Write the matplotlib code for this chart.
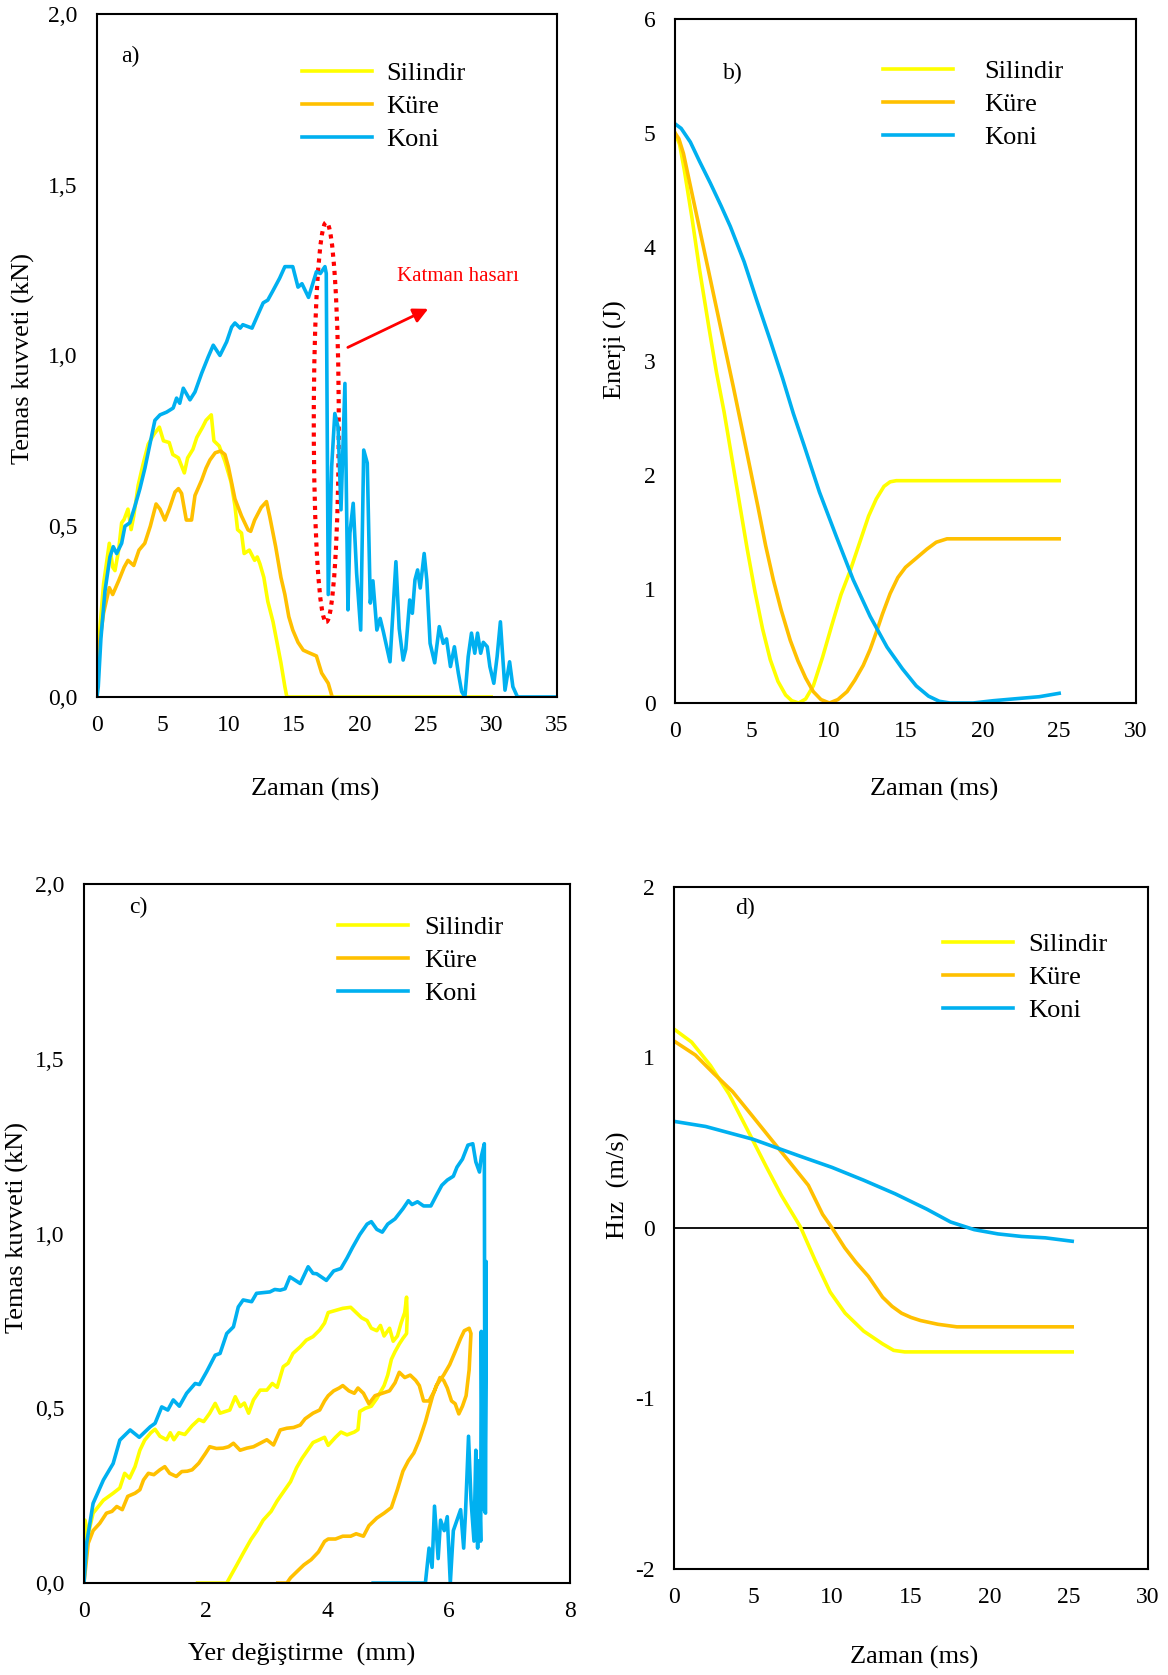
import matplotlib
matplotlib.use('Agg')
import matplotlib.pyplot as plt
from matplotlib.patches import Ellipse

plt.rcParams['font.family'] = ['Liberation Serif', 'DejaVu Serif']
plt.rcParams['axes.unicode_minus'] = False

# Colours (Excel palette)
C_SIL = '#FFFF00'
C_KUR = '#FFC000'
C_KON = '#00B0F0'

names = ['Silindir', 'Küre', 'Koni']

# ---- a) contact force vs time  (t [ms], F [kN]) ----
sil_a = [(0, 0), (0.2, 0.19), (0.5, 0.33), (0.94, 0.45), (1.2, 0.38), (1.37, 0.37), (1.65, 0.43),
         (1.88, 0.51), (2.07, 0.52), (2.36, 0.55), (2.6, 0.49), (2.8, 0.53), (3.14, 0.62), (3.5, 0.68),
         (3.9, 0.74), (4.35, 0.77), (4.75, 0.79), (5.06, 0.75), (5.5, 0.745), (5.77, 0.71), (6.2, 0.70),
         (6.65, 0.656), (6.9, 0.70), (7.3, 0.725), (7.6, 0.76), (8.04, 0.79), (8.3, 0.81), (8.7, 0.826),
         (8.9, 0.75), (9.3, 0.735), (9.74, 0.69), (10.2, 0.63), (10.5, 0.56), (10.7, 0.49), (11.0, 0.48),
         (11.2, 0.42), (11.6, 0.43), (12.0, 0.40), (12.2, 0.41), (12.4, 0.39), (12.7, 0.35), (13.0, 0.28),
         (13.4, 0.22), (13.7, 0.16), (14.0, 0.10), (14.3, 0.03), (14.45, 0.0), (30.0, 0.0)]
kur_a = [(0, 0), (0.17, 0.15), (0.5, 0.245), (0.94, 0.32), (1.2, 0.30), (1.65, 0.34), (2.07, 0.38),
         (2.36, 0.40), (2.8, 0.385), (3.2, 0.43), (3.64, 0.45), (4.06, 0.50), (4.5, 0.565), (4.8, 0.55),
         (5.17, 0.518), (5.5, 0.55), (5.94, 0.60), (6.2, 0.61), (6.44, 0.596), (6.8, 0.518), (7.2, 0.518),
         (7.46, 0.59), (7.97, 0.635), (8.3, 0.67), (8.6, 0.694), (9.0, 0.715), (9.4, 0.72), (9.74, 0.71),
         (10.0, 0.674), (10.5, 0.58), (11.0, 0.53), (11.5, 0.489), (11.7, 0.485), (12.0, 0.518),
         (12.5, 0.555), (12.9, 0.572), (13.15, 0.528), (13.6, 0.44), (14.0, 0.35), (14.3, 0.30),
         (14.6, 0.235), (14.9, 0.196), (15.3, 0.16), (15.7, 0.137), (16.1, 0.13), (16.7, 0.12),
         (17.1, 0.07), (17.6, 0.04), (17.9, 0.0)]
kon_a = [(0, 0), (0.1, 0.03), (0.3, 0.17), (0.61, 0.31), (0.99, 0.41), (1.24, 0.44), (1.5, 0.42),
         (1.88, 0.45), (2.13, 0.50), (2.5, 0.51), (2.9, 0.56), (3.27, 0.61), (3.65, 0.67), (4.03, 0.74),
         (4.41, 0.81), (4.8, 0.826), (5.3, 0.834), (5.8, 0.846), (6.06, 0.875), (6.3, 0.86), (6.57, 0.904),
         (7.08, 0.87), (7.46, 0.893), (7.97, 0.948), (8.47, 0.996), (8.85, 1.03), (9.36, 1.0), (9.87, 1.04),
         (10.25, 1.083), (10.5, 1.095), (10.9, 1.08), (11.1, 1.09), (11.8, 1.08), (12.3, 1.124),
         (12.65, 1.154), (13.0, 1.162), (13.4, 1.19), (13.9, 1.226), (14.3, 1.26), (14.9, 1.26),
         (15.3, 1.20), (15.6, 1.21), (16.1, 1.17), (16.5, 1.22), (16.7, 1.245), (17.0, 1.24),
         (17.35, 1.26), (17.45, 1.24), (17.6, 0.30), (17.86, 0.674), (18.1, 0.83), (18.35, 0.79),
         (18.57, 0.548), (18.87, 0.918), (19.1, 0.255), (19.25, 0.48), (19.5, 0.567), (19.76, 0.362),
         (20.07, 0.196), (20.3, 0.723), (20.57, 0.685), (20.8, 0.275), (21.0, 0.34), (21.3, 0.196),
         (21.55, 0.23), (21.8, 0.19), (22.3, 0.103), (22.75, 0.396), (23.0, 0.2), (23.3, 0.108),
         (23.5, 0.14), (23.8, 0.284), (24.0, 0.245), (24.2, 0.343), (24.4, 0.372), (24.6, 0.319),
         (24.9, 0.42), (25.1, 0.343), (25.35, 0.157), (25.7, 0.1), (26.05, 0.206), (26.35, 0.157),
         (26.6, 0.17), (26.9, 0.089), (27.2, 0.147), (27.5, 0.07), (27.75, 0.016), (28.0, 0.0),
         (28.25, 0.118), (28.5, 0.187), (28.75, 0.128), (28.96, 0.187), (29.2, 0.128), (29.4, 0.16),
         (29.7, 0.147), (29.9, 0.089), (30.2, 0.04), (30.45, 0.118), (30.7, 0.22), (31.05, 0.02),
         (31.4, 0.103), (31.65, 0.03), (32.0, 0.0), (35.0, 0.0)]

# damage marker in a)
hasar_center = (17.45, 0.805)
hasar_size = (1.9, 1.17)
arrow_from = (18.9, 1.02)
arrow_to = (25.4, 1.14)
hasar_text_pos = (27.5, 1.23)

# ---- b) energy vs time (t [ms], E [J]) ----
sil_b = [(0, 5.0), (0.3, 4.9), (0.6, 4.68), (1.1, 4.26), (1.6, 3.8), (2.2, 3.3), (2.7, 2.9),
         (3.2, 2.55), (3.7, 2.15), (4.2, 1.75), (4.7, 1.35), (5.2, 0.98), (5.7, 0.65), (6.2, 0.38),
         (6.7, 0.19), (7.2, 0.07), (7.6, 0.02), (8.05, 0.0), (8.5, 0.035), (9.0, 0.15), (9.6, 0.4),
         (10.2, 0.68), (10.8, 0.95), (11.4, 1.16), (12.0, 1.40), (12.6, 1.64), (13.1, 1.79),
         (13.6, 1.9), (14.0, 1.94), (14.4, 1.95), (25.0, 1.95)]
kur_b = [(0, 5.0), (0.25, 4.95), (0.55, 4.82), (1.2, 4.41), (1.85, 4.0), (2.5, 3.59), (3.15, 3.18),
         (3.8, 2.77), (4.4, 2.38), (4.9, 2.05), (5.4, 1.72), (5.9, 1.38), (6.4, 1.08), (6.9, 0.82),
         (7.5, 0.55), (8.0, 0.37), (8.5, 0.22), (9.0, 0.1), (9.5, 0.03), (10.05, 0.0), (10.6, 0.03),
         (11.2, 0.1), (11.7, 0.2), (12.25, 0.33), (12.7, 0.47), (13.1, 0.62), (13.5, 0.78),
         (14.0, 0.96), (14.5, 1.1), (15.0, 1.19), (15.7, 1.27), (16.4, 1.35), (17.0, 1.41),
         (17.7, 1.44), (25.0, 1.44)]
kon_b = [(0, 5.08), (0.4, 5.04), (1.0, 4.92), (1.6, 4.75), (2.3, 4.56), (3.0, 4.36), (3.6, 4.18),
         (4.5, 3.87), (5.3, 3.54), (6.2, 3.18), (7.0, 2.85), (7.7, 2.54), (8.4, 2.26), (9.4, 1.85),
         (10.5, 1.46), (11.6, 1.08), (12.7, 0.76), (13.8, 0.49), (14.8, 0.3), (15.7, 0.15),
         (16.5, 0.06), (17.2, 0.015), (17.9, 0.0), (19.4, 0.0), (20.7, 0.02), (22.4, 0.04),
         (23.7, 0.055), (25.0, 0.085)]

# ---- c) contact force vs displacement (d [mm], F [kN]) ----
sil_c = [(0, 0), (0.016, 0.18), (0.07, 0.14), (0.15, 0.2), (0.32, 0.237), (0.48, 0.257), (0.59, 0.272),
         (0.67, 0.314), (0.75, 0.30), (0.84, 0.333), (0.92, 0.38), (1.0, 0.409), (1.1, 0.43),
         (1.17, 0.44), (1.25, 0.42), (1.36, 0.41), (1.42, 0.43), (1.48, 0.41), (1.56, 0.43),
         (1.66, 0.425), (1.78, 0.45), (1.89, 0.468), (1.97, 0.462), (2.07, 0.486), (2.16, 0.514),
         (2.24, 0.486), (2.4, 0.495), (2.49, 0.533), (2.57, 0.505), (2.64, 0.515), (2.71, 0.486),
         (2.79, 0.524), (2.9, 0.552), (3.01, 0.552), (3.1, 0.571), (3.18, 0.56), (3.28, 0.619),
         (3.36, 0.629), (3.44, 0.657), (3.56, 0.676), (3.66, 0.695), (3.77, 0.705), (3.88, 0.724),
         (3.96, 0.744), (4.02, 0.774), (4.14, 0.78), (4.26, 0.786), (4.39, 0.789), (4.48, 0.774),
         (4.57, 0.759), (4.66, 0.751), (4.73, 0.729), (4.82, 0.722), (4.88, 0.737), (4.94, 0.707),
         (5.03, 0.729), (5.09, 0.692), (5.16, 0.707), (5.22, 0.744), (5.28, 0.774), (5.31, 0.818),
         (5.32, 0.759), (5.31, 0.714), (5.25, 0.7), (5.19, 0.684), (5.12, 0.662), (5.06, 0.64),
         (5.0, 0.595), (4.94, 0.565), (4.82, 0.528), (4.73, 0.506), (4.63, 0.5), (4.54, 0.491),
         (4.51, 0.439), (4.45, 0.432), (4.33, 0.424), (4.23, 0.432), (4.14, 0.417), (4.02, 0.394),
         (3.96, 0.417), (3.86, 0.409), (3.77, 0.402), (3.65, 0.372), (3.59, 0.357), (3.5, 0.33),
         (3.4, 0.29), (3.3, 0.265), (3.18, 0.235), (3.08, 0.205), (2.95, 0.18), (2.85, 0.15),
         (2.75, 0.125), (2.62, 0.085), (2.51, 0.05), (2.42, 0.022), (2.35, 0.0), (1.87, 0.0)]
kur_c = [(0, 0), (0.07, 0.114), (0.15, 0.15), (0.26, 0.171), (0.37, 0.2), (0.46, 0.205), (0.54, 0.219),
         (0.63, 0.21), (0.72, 0.248), (0.84, 0.257), (0.92, 0.267), (0.98, 0.295), (1.06, 0.314),
         (1.15, 0.31), (1.25, 0.324), (1.33, 0.333), (1.41, 0.314), (1.52, 0.305), (1.61, 0.319),
         (1.7, 0.32), (1.78, 0.324), (1.89, 0.343), (2.0, 0.371), (2.07, 0.39), (2.18, 0.385),
         (2.29, 0.386), (2.38, 0.39), (2.46, 0.4), (2.57, 0.38), (2.68, 0.386), (2.79, 0.39),
         (2.9, 0.4), (3.01, 0.41), (3.12, 0.395), (3.23, 0.438), (3.34, 0.443), (3.45, 0.445),
         (3.56, 0.452), (3.64, 0.47), (3.77, 0.486), (3.88, 0.495), (3.96, 0.521), (4.02, 0.536),
         (4.11, 0.55), (4.2, 0.558), (4.26, 0.565), (4.36, 0.55), (4.45, 0.543), (4.51, 0.558),
         (4.6, 0.543), (4.69, 0.513), (4.79, 0.536), (4.91, 0.543), (5.03, 0.55), (5.12, 0.573),
         (5.19, 0.603), (5.28, 0.588), (5.37, 0.595), (5.46, 0.58), (5.52, 0.565), (5.59, 0.521),
         (5.68, 0.521), (5.77, 0.55), (5.86, 0.588), (5.92, 0.58), (5.98, 0.558), (6.05, 0.521),
         (6.11, 0.513), (6.17, 0.484), (6.23, 0.506), (6.29, 0.536), (6.34, 0.61), (6.37, 0.714),
         (6.34, 0.729), (6.26, 0.722), (6.2, 0.7), (6.11, 0.662), (6.02, 0.625), (5.92, 0.595),
         (5.86, 0.58), (5.8, 0.565), (5.74, 0.536), (5.68, 0.499), (5.62, 0.461), (5.52, 0.409),
         (5.43, 0.372), (5.34, 0.35), (5.25, 0.32), (5.16, 0.268), (5.06, 0.216), (4.94, 0.2),
         (4.82, 0.186), (4.69, 0.164), (4.6, 0.134), (4.48, 0.141), (4.39, 0.134), (4.26, 0.134),
         (4.14, 0.126), (4.02, 0.126), (3.96, 0.119), (3.86, 0.089), (3.74, 0.067), (3.62, 0.052),
         (3.53, 0.037), (3.4, 0.015), (3.34, 0.0), (3.19, 0.0)]
kon_c = [(0, 0), (0.044, 0.114), (0.15, 0.228), (0.32, 0.295), (0.48, 0.342), (0.59, 0.409),
         (0.76, 0.438), (0.91, 0.417), (1.09, 0.447), (1.17, 0.457), (1.28, 0.504), (1.38, 0.495),
         (1.47, 0.524), (1.57, 0.506), (1.69, 0.543), (1.83, 0.571), (1.9, 0.568), (2.02, 0.605),
         (2.16, 0.652), (2.24, 0.657), (2.35, 0.714), (2.46, 0.733), (2.54, 0.79), (2.62, 0.81),
         (2.76, 0.805), (2.84, 0.829), (3.06, 0.833), (3.14, 0.84), (3.23, 0.838), (3.31, 0.842),
         (3.39, 0.876), (3.56, 0.857), (3.69, 0.905), (3.77, 0.886), (3.83, 0.885), (3.99, 0.866),
         (4.11, 0.893), (4.23, 0.9), (4.33, 0.93), (4.42, 0.96), (4.54, 0.997), (4.66, 1.027),
         (4.73, 1.034), (4.82, 1.012), (4.91, 1.004), (5.0, 1.027), (5.12, 1.042), (5.25, 1.071),
         (5.34, 1.094), (5.4, 1.083), (5.49, 1.091), (5.59, 1.079), (5.71, 1.079), (5.8, 1.109),
         (5.89, 1.138), (5.98, 1.153), (6.08, 1.164), (6.14, 1.19), (6.23, 1.213), (6.32, 1.253),
         (6.4, 1.257), (6.45, 1.205), (6.51, 1.176), (6.54, 1.22), (6.59, 1.257), (6.6, 0.25),
         (6.62, 0.92), (6.61, 0.2), (6.56, 0.22), (6.54, 0.72), (6.53, 0.12), (6.5, 0.35),
         (6.48, 0.10), (6.45, 0.38), (6.42, 0.12), (6.37, 0.24), (6.33, 0.42), (6.28, 0.2),
         (6.25, 0.1), (6.2, 0.21), (6.14, 0.18), (6.08, 0.15), (6.03, 0.0), (5.98, 0.19),
         (5.93, 0.15), (5.87, 0.18), (5.83, 0.07), (5.77, 0.22), (5.73, 0.045), (5.68, 0.10),
         (5.62, 0.0), (4.76, 0.0)]

# ---- d) velocity vs time (t [ms], v [m/s]) ----
sil_d = [(0, 1.166), (1.11, 1.09), (2.3, 0.953), (3.48, 0.785), (4.67, 0.571), (5.85, 0.357),
         (6.8, 0.19), (8.0, 0.006), (8.93, -0.19), (9.88, -0.376), (10.83, -0.5), (12.0, -0.605),
         (13.2, -0.68), (13.9, -0.718), (14.6, -0.727), (25.2, -0.727)]
kur_d = [(0, 1.096), (1.35, 1.014), (2.5, 0.907), (3.7, 0.8), (4.9, 0.663), (6.1, 0.525),
         (7.3, 0.388), (8.5, 0.25), (9.4, 0.08), (10.0, 0.0), (10.8, -0.116), (11.5, -0.2),
         (12.3, -0.284), (13.2, -0.406), (13.8, -0.46), (14.4, -0.5), (15.0, -0.525),
         (15.6, -0.543), (16.7, -0.565), (17.9, -0.58), (25.2, -0.58)]
kon_d = [(0, 0.625), (2, 0.595), (4, 0.545), (5, 0.52), (6.5, 0.47), (8, 0.42), (10, 0.355),
         (12, 0.28), (14, 0.2), (16, 0.11), (17.5, 0.035), (19, -0.01), (20.5, -0.035),
         (22, -0.05), (23.5, -0.058), (25.2, -0.078)]

yt_force = [0, 0.5, 1.0, 1.5, 2.0]
yt_force_lbl = ['0,0', '0,5', '1,0', '1,5', '2,0']

LW = 2.6
TICK_FS = 17
LAB_FS = 19

fig = plt.figure(figsize=(11.68, 16.75), dpi=100)


def style(ax):
    for s in ax.spines.values():
        s.set_linewidth(1.5)
        s.set_color('black')
    ax.tick_params(axis='both', length=0, labelsize=TICK_FS)
    ax.tick_params(axis='x', pad=13)
    ax.tick_params(axis='y', pad=14)


def draw(ax, series):
    for data, col, name in zip(series, [C_SIL, C_KUR, C_KON], names):
        xs = [p[0] for p in data]
        ys = [p[1] for p in data]
        ax.plot(xs, ys, color=col, lw=LW, label=name, solid_joinstyle='round')


def legend(ax, x, y, textpad):
    ax.legend(loc='upper left', bbox_to_anchor=(x, y), frameon=False, fontsize=LAB_FS,
              handlelength=2.65, handletextpad=textpad, labelspacing=0.36,
              borderaxespad=0, borderpad=0)


# a)
ax = fig.add_axes([0.0830, 0.5839, 0.3938, 0.4078])
draw(ax, [sil_a, kur_a, kon_a])
ax.set_xlim(0, 35)
ax.set_ylim(0, 2.0)
ax.set_xticks(range(0, 36, 5))
ax.set_yticks(yt_force)
ax.set_yticklabels(yt_force_lbl)
style(ax)
ax.add_patch(Ellipse(hasar_center, hasar_size[0], hasar_size[1], fill=False,
                     edgecolor='#FF0000', lw=3, ls=(0, (1, 1.2))))
ax.annotate('', xy=arrow_to, xytext=arrow_from,
            arrowprops=dict(arrowstyle='-|>', color='#FF0000', lw=2, mutation_scale=22))
ax.text(*hasar_text_pos, 'Katman hasarı', color='#FF0000', fontsize=15, ha='center', va='center')
ax.text(0.072, 0.938, 'a)', transform=ax.transAxes, fontsize=TICK_FS, ha='center', va='center')
ax.set_xlabel('Zaman (ms)', fontsize=LAB_FS)
ax.set_ylabel('Temas kuvveti (kN)', fontsize=LAB_FS)
ax.xaxis.set_label_coords(0.474, -0.119)
ax.yaxis.set_label_coords(-0.135, 0.496)
legend(ax, 0.446, 0.930, 0.55)

# b)
ax = fig.add_axes([0.5779, 0.5803, 0.3947, 0.4084])
draw(ax, [sil_b, kur_b, kon_b])
ax.set_xlim(0, 30)
ax.set_ylim(0, 6)
ax.set_xticks(range(0, 31, 5))
ax.set_yticks(range(0, 7))
style(ax)
ax.text(0.126, 0.92, 'b)', transform=ax.transAxes, fontsize=TICK_FS, ha='center', va='center')
ax.set_xlabel('Zaman (ms)', fontsize=LAB_FS)
ax.set_ylabel('Enerji (J)', fontsize=LAB_FS)
ax.xaxis.set_label_coords(0.562, -0.11)
ax.yaxis.set_label_coords(-0.104, 0.516)
legend(ax, 0.451, 0.940, 1.2)

# c)
ax = fig.add_axes([0.0719, 0.0549, 0.4161, 0.4173])
draw(ax, [sil_c, kur_c, kon_c])
ax.set_xlim(0, 8)
ax.set_ylim(0, 2.0)
ax.set_xticks(range(0, 9, 2))
ax.set_yticks(yt_force)
ax.set_yticklabels(yt_force_lbl)
style(ax)
ax.text(0.111, 0.966, 'c)', transform=ax.transAxes, fontsize=TICK_FS, ha='center', va='center')
ax.set_xlabel('Yer değiştirme  (mm)', fontsize=LAB_FS)
ax.set_ylabel('Temas kuvveti (kN)', fontsize=LAB_FS)
ax.xaxis.set_label_coords(0.447, -0.086)
ax.yaxis.set_label_coords(-0.113, 0.509)
legend(ax, 0.523, 0.955, 0.6)

# d)
ax = fig.add_axes([0.5771, 0.0633, 0.4058, 0.4072])
ax.axhline(0, color='black', lw=1.3, zorder=1)
draw(ax, [sil_d, kur_d, kon_d])
ax.set_xlim(0, 30)
ax.set_ylim(-2, 2)
ax.set_xticks(range(0, 31, 5))
ax.set_yticks(range(-2, 3))
style(ax)
ax.text(0.15, 0.968, 'd)', transform=ax.transAxes, fontsize=TICK_FS, ha='center', va='center')
ax.set_xlabel('Zaman (ms)', fontsize=LAB_FS)
ax.set_ylabel('Hız  (m/s)', fontsize=LAB_FS)
ax.xaxis.set_label_coords(0.506, -0.113)
ax.yaxis.set_label_coords(-0.093, 0.562)
legend(ax, 0.567, 0.933, 0.6)

fig.savefig('out.png', dpi=100)
